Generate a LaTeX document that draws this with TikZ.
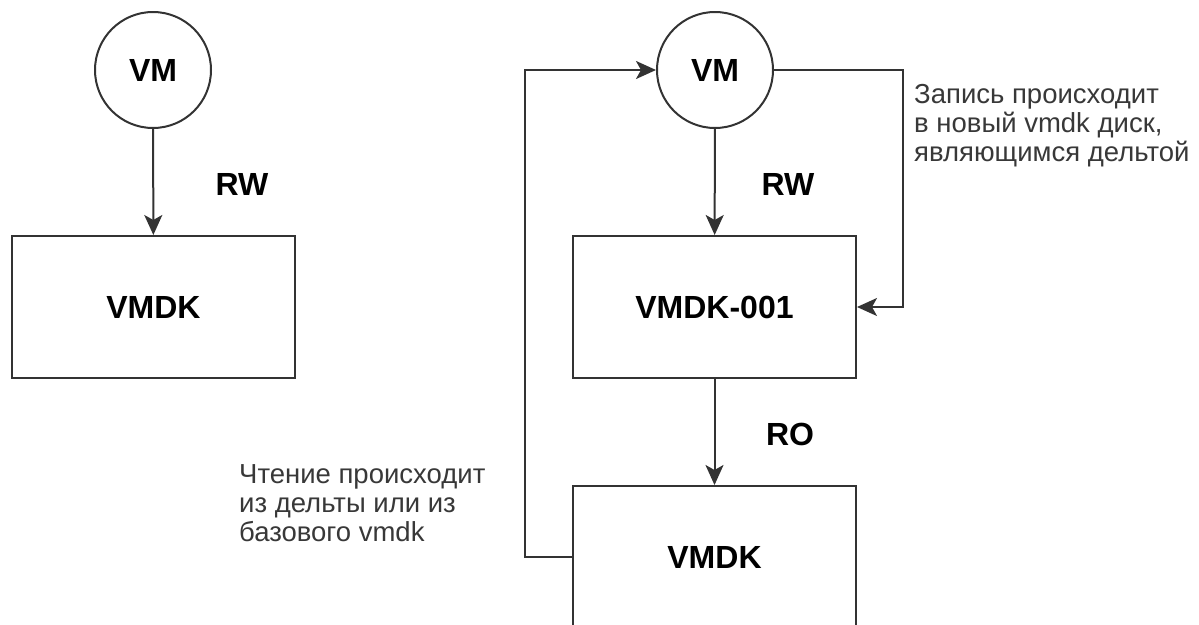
\documentclass[tikz,border=0pt]{standalone}
\usepackage{fontspec}
\setmainfont{Liberation Sans}
\usetikzlibrary{positioning, arrows.meta}
\tikzset{
  vm/.style={circle, draw=black!80, line width=2pt, minimum size=116pt, inner sep=0pt,
    font=\fontsize{32}{36}\selectfont\bfseries},
  disk/.style={rectangle, draw=black!80, line width=2pt, minimum width=283pt, minimum height=142pt,
    inner sep=0pt, font=\fontsize{32}{36}\selectfont\bfseries},
  lbl/.style={inner sep=0pt, font=\fontsize{32}{36}\selectfont\bfseries},
  note/.style={align=left, inner sep=0pt, text=black!78, font=\fontsize{27.5}{29}\selectfont},
  link/.style={draw=black!80, line width=2pt, -{Stealth[length=20pt, width=18pt, inset=5pt]}}}

\begin{document}
\begin{tikzpicture}[x=1pt, y=-1pt]
\useasboundingbox (0,0) rectangle (1199,624);
% plain disk
\node[vm] (vmA) at (153,70) {VM};
\node[disk] (diskA) at (153.5,307) {VMDK};
\draw[link] (vmA) -- (diskA);
\node[lbl] (rwA) at (242,184) {RW};
% disk with snapshot
\node[vm] (vmB) at (715,70) {VM};
\node[disk] (delta) at (714.5,307) {VMDK-001};
\node[disk] (base) at (714.5,557) {VMDK};
\draw[link] (vmB) -- (delta);
\draw[link] (delta) -- (base);
\node[lbl] (rwB) at (788,184) {RW};
\node[lbl] (ro) at (790,434) {RO};
\coordinate (wr) at (903,70);
\coordinate (rd) at (525,557);
\draw[link] (vmB.east) -- (wr) |- (delta.east);
\draw[link] (base.west) -- (rd) |- (vmB.west);
\node[note, anchor=north west] (wnote) at (914,84) {Запись происходит\\в новый vmdk диск,\\являющимся дельтой};
\node[note, anchor=north west] (rnote) at (239,464) {Чтение происходит\\из дельты или из\\базового vmdk};
\end{tikzpicture}
\end{document}
